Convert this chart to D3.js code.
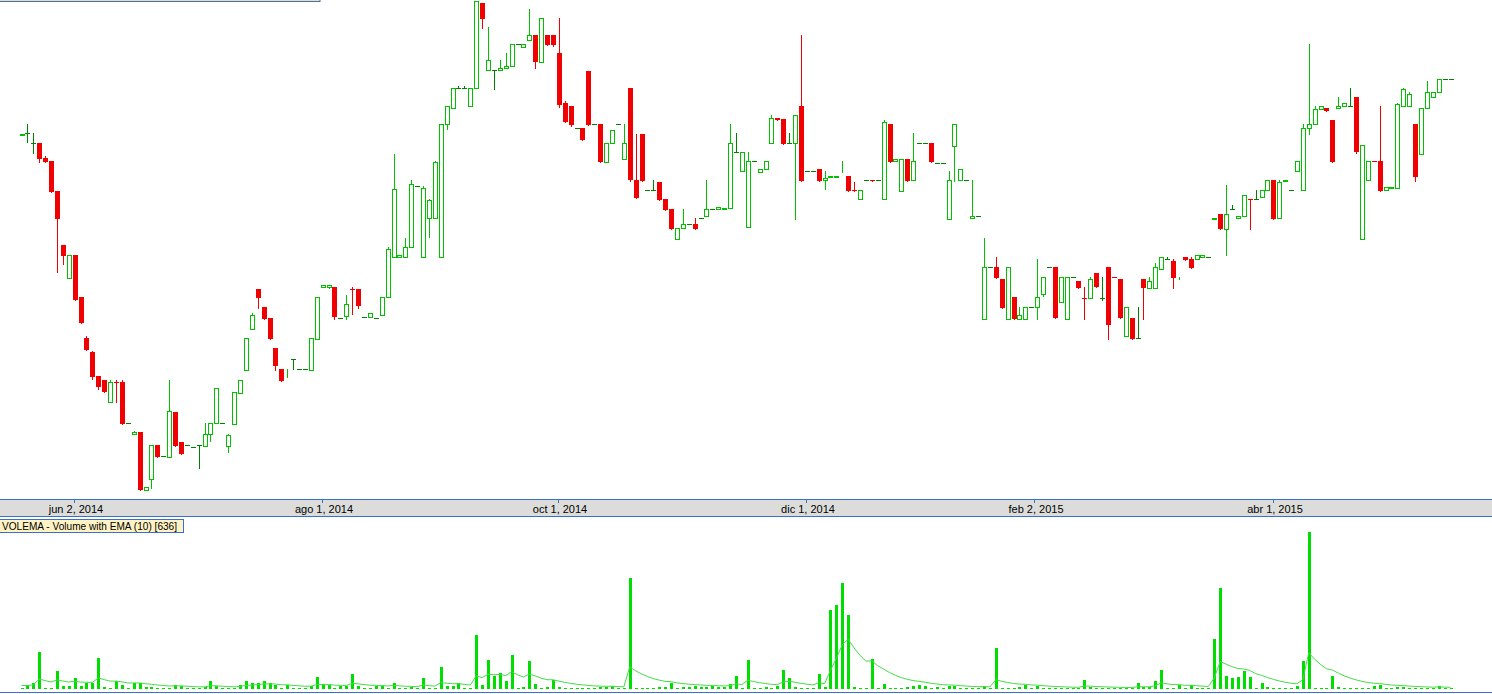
<!DOCTYPE html>
<html><head><meta charset="utf-8">
<script src="https://cdn.jsdelivr.net/npm/d3@7"></script>
<style>html,body{margin:0;padding:0;background:#fff;overflow:hidden}svg{display:block}</style>
</head><body>
<svg id="c" width="1492" height="694"></svg>
<script>
// OHLC rows [open, high, low, close]
const candles = [
[365.5,366.5,365.5,366.5],[367,376,358.3,367],[357,367,347.3,357],[357,357,338.3,341.3],[342,344,338.3,338.3],
[339,339,308.3,308.3],[309,309,228.3,281.3],[255,255,236.3,244.3],[222.3,245,222.3,245],[245,245,200,200],
[203,203,177.3,177.3],[162,164,150.3,150.3],[148,149,121.3,123],[124,124,111,113.3],[120,120,108.3,108.3],
[98.3,120,98.3,117.7],[117.7,120,98.3,117.5],[117.7,120,76.3,76.3],[76.7,76.7,76.7,76.7],[65.7,69,65.7,68.3],
[68,68,10,10],[10,12.7,10,12.7],[21.3,55,12,55],[55,55,43.3,43.3],[43.7,43.7,43.7,43.7],
[43.3,120,43.3,88.7],[88,88,54,54],[58,58,46,46],[54.7,54.7,54.7,54.7],[52.7,52.7,52.7,52.7],
[54.7,54.7,32.3,54.7],[54.3,77,54.3,65.7],[65.7,76.7,59.3,76.7],[76.7,111.7,76.7,111.7],[76.7,76.7,76.7,76.7],
[54.3,66.3,48.3,64.7],[76.3,107.7,76.3,107.7],[107.3,119.7,107.3,119.7],[130.3,161.7,130.3,161.7],[171.3,187,171.3,184.7],
[211,211,192.3,202.3],[193,193,181,181],[182,182,161,161],[152,152,130,134],[131,131,119,119],
[130.7,130.9,123,130.9],[140.7,140.7,130.7,140.7],[130.7,130.7,130.7,130.7],[130.7,130.7,130.7,130.7],[130.3,161.7,130.3,161.7],
[161.3,202.7,161.3,202.7],[212.7,214.7,212.7,214.7],[213.3,214.7,212.5,214.7],[213,213,181,183.3],[181.7,181.7,181.7,181.7],
[184.3,205,181.3,195.7],[211,213,186,210],[211,211,192.3,194],[182.7,182.7,182.7,182.7],[182.7,186.7,182.7,186.7],
[181.7,181.7,181.7,181.7],[184.7,203,184.7,203],[202.7,252.7,202.7,251],[242.7,346,242.7,310.7],[242.7,244.7,242.7,244.7],
[242.7,262,242.7,252.7],[252.7,320,252.7,315.7],[313.7,313.7,313.7,313.7],[242.7,314,242.7,311.7],[281.7,301,263.3,299.7],
[281.7,339,281.7,337.7],[242.7,375.7,242.7,375.7],[375.7,393.7,371.3,393.7],[391.7,411.7,391.7,411.7],[411.7,414,411.7,411.7],
[411.7,414,411.7,411.7],[393.7,411.7,393.7,411.7],[411.7,498.7,411.7,498.7],[497,497,472.3,481.3],[429.7,473,429.7,439.7],
[429.7,429.7,411.3,429.7],[429.7,440,429.7,431.7],[431.7,447,431.7,433.7],[433.7,455.7,433.7,455.7],[455.7,455.7,455.7,455.7],
[452.7,455.7,452.7,455.7],[459.7,491,459.7,464.7],[465,465,432.3,438],[438.3,481.7,438.3,481.7],[465,465,455,455],
[465,465,454,455],[447,482.3,393.3,395],[397,399,378,378],[394,394,374,375],[371.7,371.7,371.7,371.7],
[372,372,360,360],[429,429,375,375],[375.7,375.7,375.7,375.7],[376,376,338,338],[338.3,356.7,338.3,356.7],
[356.7,369.7,356.7,369.7],[375.7,375.7,375.7,375.7],[340.7,375.7,340.7,356.7],[412,412,319,320],[320,366,302.3,302.3],
[366,366,319,319],[309.7,309.7,309.7,309.7],[309.7,320,309.7,309.7],[318,318,300,300],[301,301,290,290],
[291,291,271,271],[261.3,271.7,261.3,271.7],[271.7,291,271.7,275.7],[275.7,275.7,275.7,275.7],[275.7,282,271,271],
[281.7,281.7,281.7,281.7],[283.7,320,283.7,290.7],[290.7,290.7,290.7,290.7],[290.7,292.7,290.7,292.7],[290.8,291.8,290.8,291.8],
[291.7,376,291.7,356.7],[347.7,367,347.7,347.7],[328.7,347.7,328.7,347.7],[273.3,347.7,273.3,338.7],[338.7,338.7,338.7,338.7],
[328.3,330.7,328.3,330.7],[330.7,338.7,330.7,338.7],[356.7,384.7,356.7,381.7],[382,382,380.3,380.3],[381,381,356.3,356.3],
[356.7,367,356.7,356.7],[356.7,384.7,281.3,384.7],[394,465,319,319],[328.7,328.7,328.7,328.7],[328.7,328.7,328.7,328.7],
[331,331,319,319],[319.7,328.7,311.3,321.7],[322.8,323.8,322.8,323.8],[323.5,323.7,323.5,323.7],[338.5,338.7,328.3,338.7],
[324,324,309,309],[309.7,318,309.5,309.5],[300.7,309.7,300.7,309.7],[319.7,319.7,319.7,319.7],[319.7,319.7,319.5,319.5],
[319.7,319.7,319.7,319.7],[300.7,380,300.7,377.7],[376,376,338,338],[338.7,340.7,338.7,340.7],[309.3,340.7,309.3,340.7],
[341,341,319,319],[319.7,367,319.7,338.7],[356.7,356.7,356.7,356.7],[356.7,356.7,356.7,356.7],[357,357,338,338],
[336.7,336.7,336.7,336.7],[336.7,336.7,336.7,336.7],[281.3,328.7,281.3,319.7],[354.3,375.7,319,375.7],[319.7,330.7,319.7,330.7],
[319.7,319.7,319.7,319.7],[281.7,319.7,281.7,283.7],[283.7,283.7,283.7,283.7],[181.3,262,181.3,232.7],[232.7,232.7,232.7,232.7],
[232.7,243,222.3,222.3],[221,221,192.3,192.3],[181.3,232.7,181.3,232.7],[203,203,181.3,181.3],[181.3,193,181.3,184.7],
[181.3,192.7,181.3,192.7],[192.7,192.7,192.7,192.7],[192.7,241,181.3,202.7],[206.3,222.7,204.3,222.7],[232.7,232.7,232.7,232.7],
[232.7,232.7,182.3,182.3],[198.3,222.7,198.3,222.7],[181.3,222.7,181.3,222.7],[222.7,222.7,222.7,222.7],[219,219,212.3,212.3],
[202.3,213,181.3,202.1],[202.3,222.7,202.3,220.7],[227,227,213.3,213.3],[202.3,222.7,200.3,202.3],[232.7,232.7,161.3,175.3],
[222.7,222.7,222.5,222.5],[221,221,182.3,182.3],[163.7,192.7,163.7,192.7],[182,182,161.3,161.3],[161.7,192.7,161.7,161.7],
[220.7,220.7,181.3,212.3],[212.3,222.7,212.3,218.7],[212.3,236.7,212.3,232.7],[230.7,242.7,230.7,242.7],[240.7,243,240.7,240.7],
[239,241,212.3,222.3],[222.5,222.7,221,222.7],[243,243,240.3,240.3],[241,243,232.3,232.3],[240.7,244.7,240.7,244.7],
[242.7,244.7,242.7,244.7],[242.7,242.7,242.7,242.7],[281.5,281.7,281.5,281.7],[286,286,271,271],[271.3,314.7,245.3,285.7],
[290.7,294.7,290.7,290.7],[281.7,283.7,281.7,283.7],[283.7,304.7,283.7,304.7],[300.7,300.7,271.3,300.5],[300.7,309.7,300.7,300.7],
[302.7,309.7,302.7,309.7],[309.7,319.7,309.7,319.7],[320,320,281.3,281.3],[281.7,319.7,281.7,317.7],[319.5,319.7,319.5,319.7],
[309.7,309.7,309.7,309.7],[328.7,338.7,328.7,338.7],[309.7,375.7,309.7,371.7],[371.7,456,366.3,375.7],[375.7,394,375.7,390.7],
[390.7,393.7,390.7,393.7],[392,392,389.3,389.3],[380,380,338,338],[391.7,403,391.7,393.7],[393.7,396.7,393.7,396.7],
[393.7,412,393.7,393.7],[403,403,347,348],[261.3,354.7,261.3,354.7],[319.7,338.7,319.7,338.7],[338.7,338.7,338.5,338.5],
[338.7,394,309.3,309.3],[309.7,312.7,309.7,312.7],[311.8,312.8,311.8,312.8],[311.7,397,311.7,395.7],[393.7,412,393.7,410.7],
[393.7,408,393.7,405.7],[376,376,319,323.3],[345.7,391.7,345.7,391.7],[391.7,419,391.7,407.7],[402.7,407.7,402.7,407.7],
[407.7,420.7,407.7,420.7],[420.7,420.7,420.7,420.7],[420.7,420.7,420.7,420.7]
];
const volumes = [
1,4,6,37,1,1,18,3,3,11, 3,6,6,31,2,1,8,4,1,6, 6,2,2,1,1,1,4,3,1,1, 1,2,8,3,1,1,1,4,8,6,
6,8,6,4,1,4,1,1,1,3, 12,5,4,1,3,3,15,3,1,1, 3,3,1,6,1,1,2,1,11,1, 1,22,3,3,6,1,1,54,4,29,
13,16,8,34,1,2,28,5,1,2, 9,2,1,1,1,1,1,1,2,2, 3,1,1,111,1,1,1,1,2,2, 6,1,2,2,3,2,2,3,2,2,
5,13,1,29,1,1,2,1,3,19, 11,2,1,1,1,15,2,79,84,106, 74,2,1,1,30,1,5,1,1,1, 2,3,4,3,1,2,1,3,3,1,
1,1,1,3,1,41,1,1,1,2, 4,1,3,1,1,1,1,1,1,1, 9,2,1,1,1,1,1,1,1,6, 2,2,8,19,1,1,4,1,4,1,
1,1,50,101,13,11,12,18,12,1, 6,2,1,1,1,1,3,28,157,1, 1,1,13,2,1,1,1,1,1,3, 4,1,1,2,2,1,1,1,1,1,
3,1,1
];
const emaSeed = 4;
const emaPeriod = 10;
const tickIndex = [9, 51, 91, 133, 171.5, 212];
const tickLabels = ["jun 2, 2014", "ago 1, 2014", "oct 1, 2014", "dic 1, 2014", "feb 2, 2015", "abr 1, 2015"];
const volLabel = "VOLEMA - Volume with EMA (10) [636]";

const svg = d3.select("#c");
const W = 1492;
const BLUE = "#3a6fcf", UP = "#00c000", DOWN = "#f00000", FLAT = "#008000", VOL = "#00dd00", EMA = "#44dd44";
const FONT = "'Liberation Sans', Arial, sans-serif";

const x = d3.scaleLinear().domain([0, candles.length - 1]).range([21.5, 1450.5]);
const y = d3.scaleLinear().domain([0, 500]).range([500, 0]);
const yv = d3.scaleLinear().domain([0, 160]).range([689, 529]);

// top legend remnant
svg.append("rect").attr("x", -1.5).attr("y", -20).attr("width", 321.5).attr("height", 21.5)
  .attr("fill", "#f3dc9a").attr("stroke", BLUE).attr("stroke-width", 1);

const g = svg.append("g").attr("shape-rendering", "crispEdges");
candles.forEach((d, i) => {
  const [o, h, l, c] = d;
  const px = Math.round(x(i));
  const col = c > o ? UP : (c < o ? DOWN : FLAT);
  const yo = Math.round(y(o)), yc = Math.round(y(c)), yh = Math.round(y(h)), yl = Math.round(y(l));
  if (yl > yh) {
    g.append("line").attr("x1", px + 0.5).attr("x2", px + 0.5).attr("y1", yh).attr("y2", yl + 1)
      .attr("stroke", col).attr("stroke-width", 1);
  }
  if (c > o) {
    const hh = Math.max(0, yo - yc);
    g.append("rect").attr("x", px - 1.5).attr("y", yc + 0.5).attr("width", 4).attr("height", hh)
      .attr("fill", "#fff").attr("stroke", col).attr("stroke-width", 1);
  } else if (c < o) {
    g.append("rect").attr("x", px - 2).attr("y", yo).attr("width", 5).attr("height", Math.max(1, yc - yo))
      .attr("fill", col);
  } else {
    g.append("line").attr("x1", px - 2).attr("x2", px + 3).attr("y1", yo + 0.5).attr("y2", yo + 0.5)
      .attr("stroke", col).attr("stroke-width", 1);
  }
});

// x-axis band
const ab = svg.append("g").attr("shape-rendering", "crispEdges");
ab.append("rect").attr("x", 0).attr("y", 499).attr("width", W).attr("height", 17).attr("fill", "#dcdddb");
ab.append("line").attr("x1", 0).attr("x2", W).attr("y1", 499.5).attr("y2", 499.5).attr("stroke", BLUE);
ab.append("line").attr("x1", 0).attr("x2", W).attr("y1", 516.5).attr("y2", 516.5).attr("stroke", BLUE);
tickIndex.forEach((t, k) => {
  const tx = Math.round(x(t) - 0.4);
  ab.append("line").attr("x1", tx + 0.5).attr("x2", tx + 0.5).attr("y1", 500).attr("y2", 503).attr("stroke", BLUE);
  svg.append("text").attr("x", tx + 2).attr("y", 513).attr("text-anchor", "middle")
    .attr("font-family", FONT).attr("font-size", 11).attr("fill", "#000").text(tickLabels[k]);
});

// volume label
svg.append("rect").attr("x", -1.5).attr("y", 519.5).attr("width", 185).attr("height", 12.5)
  .attr("fill", "#fff3c4").attr("stroke", BLUE).attr("stroke-width", 1).attr("shape-rendering", "crispEdges");
svg.append("text").attr("x", 2).attr("y", 529.5).attr("text-anchor", "start")
  .attr("font-family", FONT).attr("font-size", 10.1).attr("fill", "#000").text(volLabel);

// volume bars
const vg = svg.append("g").attr("shape-rendering", "crispEdges");
volumes.forEach((v, i) => {
  const px = Math.round(x(i));
  const top = Math.round(yv(v));
  vg.append("rect").attr("x", px - 1).attr("y", top).attr("width", 3).attr("height", Math.max(1, 689 - top)).attr("fill", VOL);
});
// EMA (10) of volume
const alpha = 2 / (emaPeriod + 1);
const ema = [];
volumes.forEach((v, i) => { const prev = i === 0 ? emaSeed : ema[i - 1]; ema.push(prev + alpha * (v - prev)); });
svg.append("path").datum(ema)
  .attr("d", d3.line().x((d, i) => x(i)).y(d => yv(d)))
  .attr("fill", "none").attr("stroke", EMA).attr("stroke-width", 1);

svg.append("line").attr("x1", 0).attr("x2", W).attr("y1", 692.5).attr("y2", 692.5).attr("stroke", BLUE)
  .attr("shape-rendering", "crispEdges");
</script>
</body></html>
